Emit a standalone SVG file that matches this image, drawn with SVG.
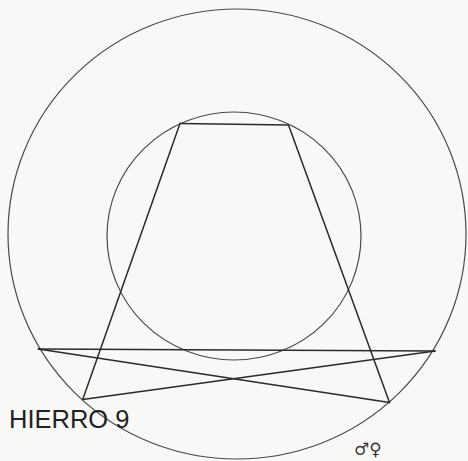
<svg xmlns="http://www.w3.org/2000/svg" width="468" height="461" viewBox="0 0 468 461">
<style>
.c{fill:none;stroke:#4a4a4a;stroke-width:1.2}
.l{fill:none;stroke:#2a2a2a;stroke-width:1.5;stroke-linecap:round}
</style>
<rect width="468" height="461" fill="#f8f8f7"/>
<g id="outer-circle"><ellipse class="c" cx="237" cy="234" rx="229" ry="225"/></g>
<g id="inner-circle"><ellipse class="c" cx="234" cy="236" rx="127" ry="124"/></g>
<g id="connectors">
<line class="l" x1="180" y1="123.5" x2="288.5" y2="125"/>
<line class="l" x1="180" y1="123.5" x2="82.7" y2="399.5"/>
<line class="l" x1="288.5" y1="125" x2="389.5" y2="402.5"/>
<line class="l" x1="38.3" y1="349" x2="435" y2="351"/>
<line class="l" x1="38.3" y1="349" x2="389.5" y2="402.5"/>
<line class="l" x1="435" y1="351" x2="82.7" y2="399.5"/>
</g>
<g id="label"><text x="9" y="428" font-family="Liberation Sans, Arial, sans-serif" font-size="25.5" fill="#222">HIERRO 9</text></g>
<g id="symbol"><text x="354" y="455" font-family="DejaVu Serif, serif" font-size="17" font-weight="bold" fill="#333">♂♀</text></g>
</svg>
